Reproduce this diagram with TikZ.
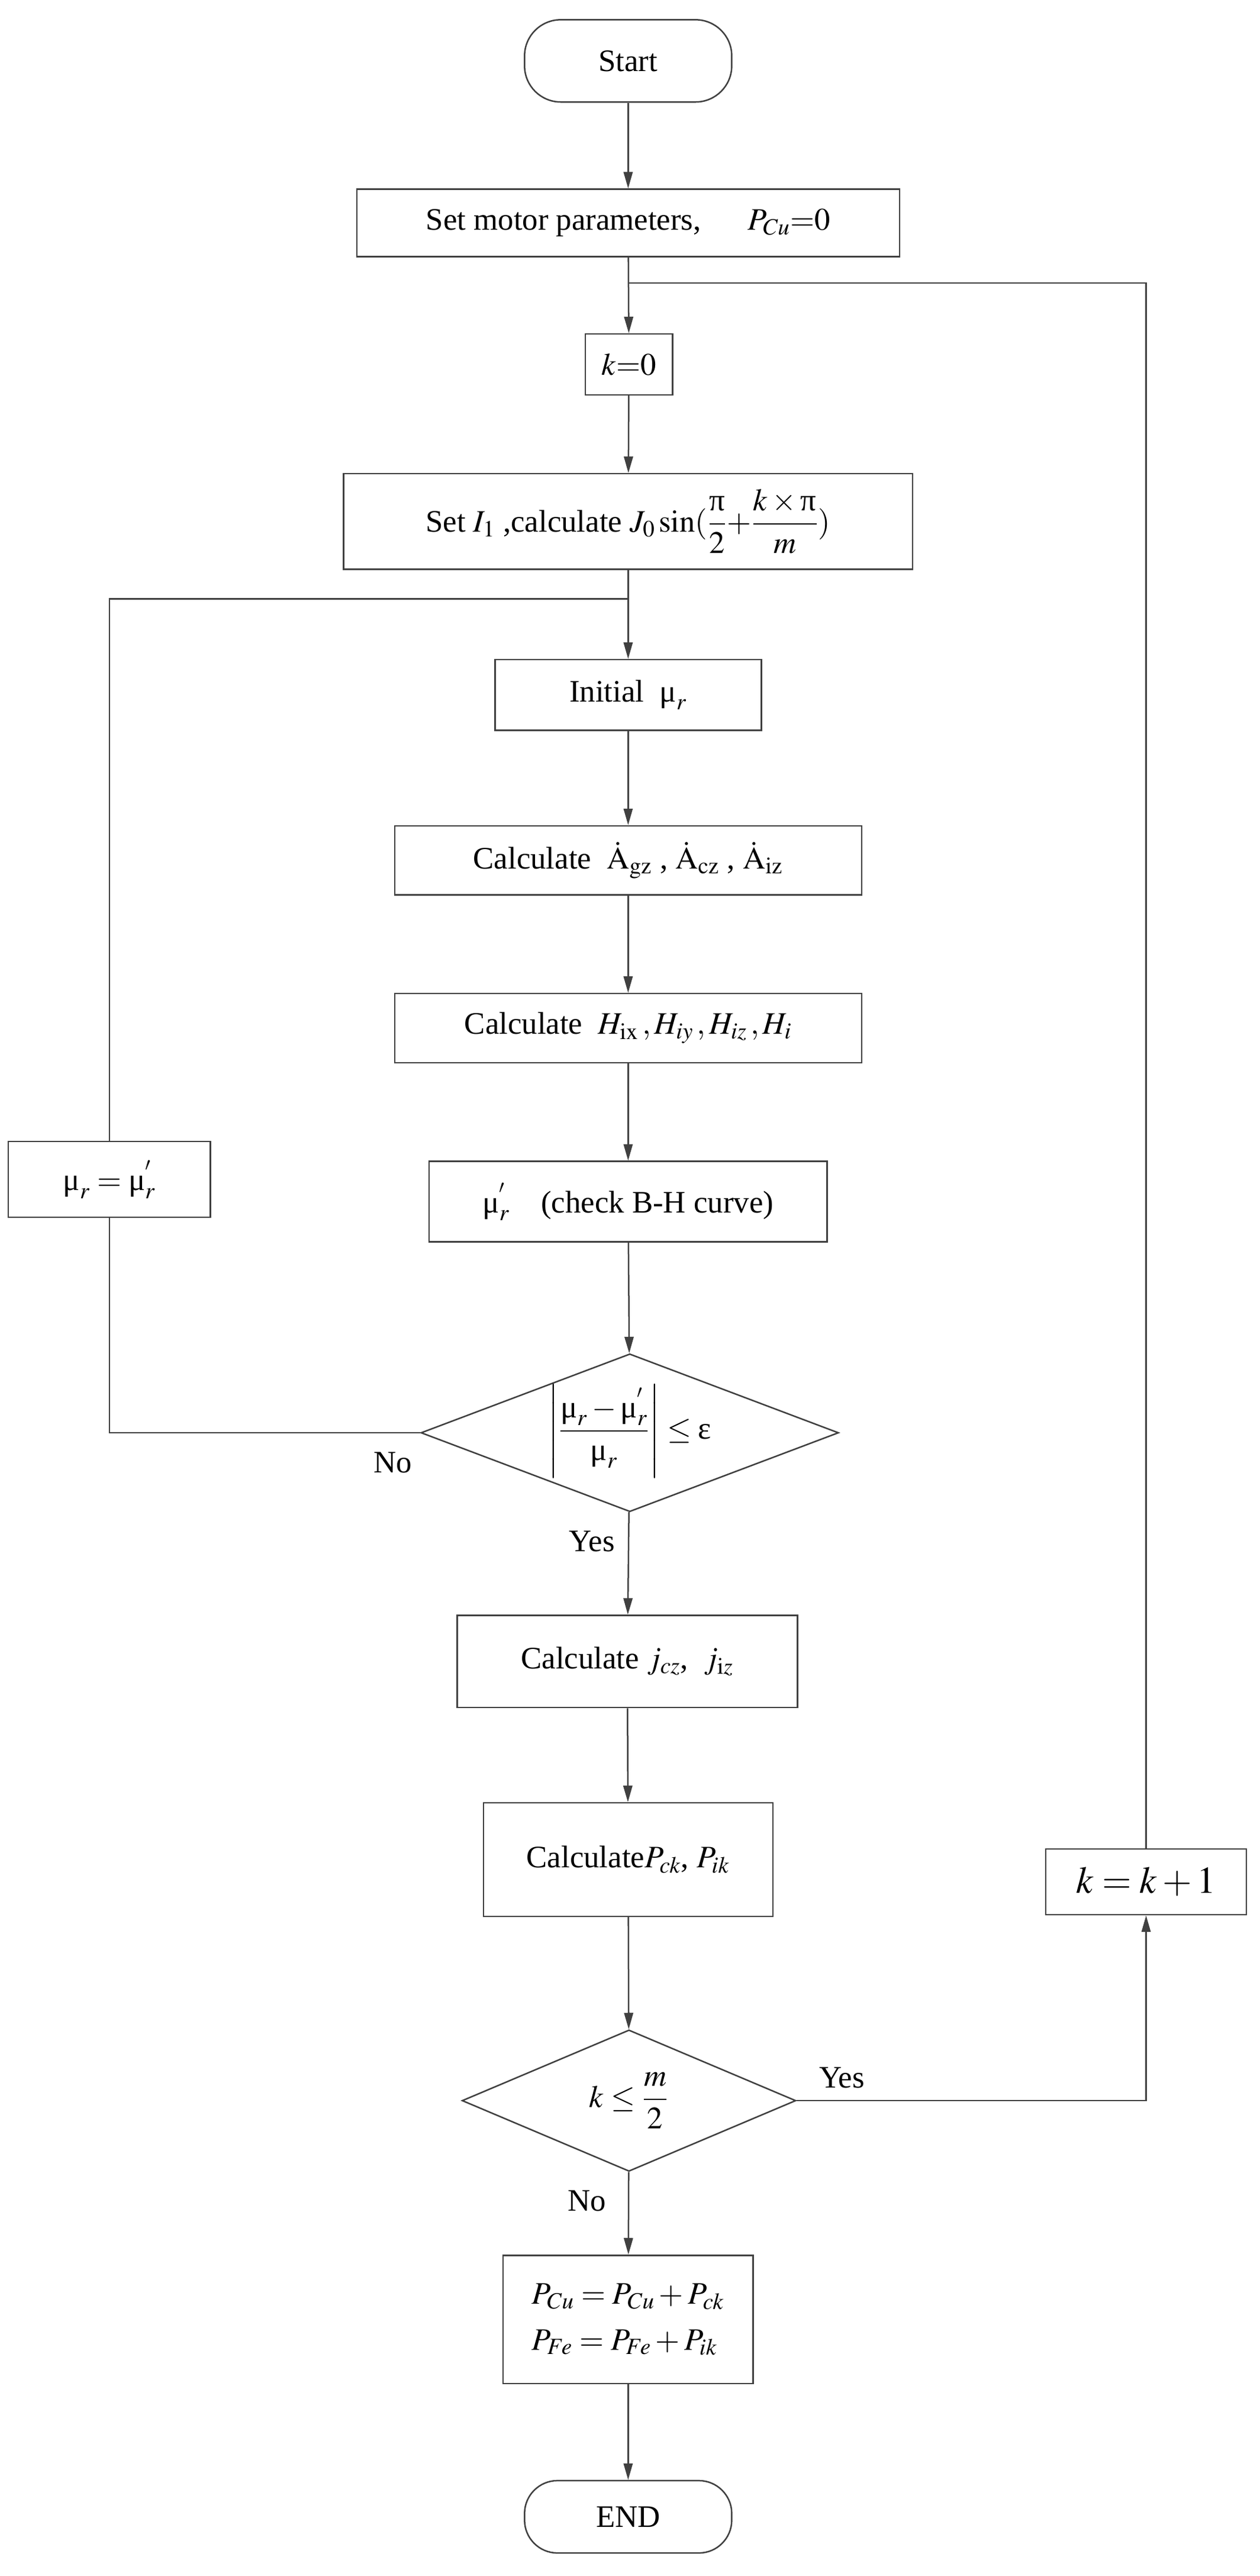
\documentclass[tikz,border=0pt]{standalone}
\usepackage{amsmath}
\usepackage{mathptmx}
\usepackage{fontspec}
\setmainfont{Liberation Serif}
\usetikzlibrary{arrows.meta,shapes.geometric,positioning}
\definecolor{ln}{HTML}{404040}
\newcommand{\um}{\textnormal{μ}}
\newcommand{\upi}{\textnormal{π}}
\begin{document}
\begin{tikzpicture}[x=1pt,y=-1pt,
  every node/.style={font=\fontsize{19}{23}\selectfont, inner sep=0pt},
  box/.style={draw=ln, line width=0.9pt, rectangle},
  term/.style={draw=ln, line width=0.9pt, rounded corners=22pt},
  dia/.style={draw=ln, line width=0.9pt, diamond, aspect=2.6},
  lab/.style={font=\fontsize{19}{23}\selectfont},
  arr/.style={draw=ln, line width=0.9pt, -{Triangle[length=10pt,width=5.5pt]}},
  ln/.style={draw=ln, line width=0.9pt}]
\useasboundingbox (0,0) rectangle (766,1566);
\node[term, minimum width=126pt, minimum height=50pt] (start) at (382,37) {Start};
\node[box, minimum width=330pt, minimum height=41pt] (b1) at (382,135.5) {Set motor parameters,\quad\ \ $P_{Cu}{=}0$};
\node[box, minimum width=53pt, minimum height=37pt] (k0) at (382.5,221.5) {$k{=}0$};
\node[box, minimum width=346pt, minimum height=58pt] (b2) at (382,317) {Set $I_1$ ,calculate $J_0\sin(\dfrac{\upi}{2}{+}\dfrac{k\times\upi}{m})$};
\node[box, minimum width=162pt, minimum height=43pt] (b3) at (382,422.5) {Initial\ \ $\um_r$};
\node[box, minimum width=284pt, minimum height=42pt] (b4) at (382,523) {Calculate\ \ $\dot{\mathrm{A}}_{\mathrm{gz}}$ ,\ $\dot{\mathrm{A}}_{\mathrm{cz}}$ ,\ $\dot{\mathrm{A}}_{\mathrm{iz}}$};
\node[box, minimum width=284pt, minimum height=42pt] (b5) at (382,625) {Calculate\ \ $H_{\mathrm{ix}}\,, H_{iy}\,, H_{iz}\,, H_{i}$};
\node[box, minimum width=242pt, minimum height=49pt] (b6) at (382,730.5) {$\um_r^{'}$\quad (check B-H curve)};
\node[box, minimum width=123pt, minimum height=46pt] (bm) at (66.5,717) {$\um_r=\um_r^{'}$};
\node[dia, minimum width=254pt, minimum height=96pt] (d1) at (383,871) {};
\node at (383,870) {$\left|\dfrac{\um_r-\um_r^{'}}{\um_r}\right|\le\textnormal{ε}$};
\node[lab] at (239,889) {No};
\node[lab] at (360,937) {Yes};
\node[box, minimum width=207pt, minimum height=56pt] (b7) at (381.5,1010) {Calculate $j_{cz}$, \ $j_{\mathrm{i}z}$};
\node[box, minimum width=176pt, minimum height=69pt] (b8) at (382,1130.5) {Calculate$P_{ck}$, $P_{ik}$};
\node[dia, minimum width=203pt, minimum height=86pt] (d2) at (382.5,1277) {};
\node at (382.5,1277) {$k\le\dfrac{m}{2}$};
\node[lab] at (512,1263) {Yes};
\node[lab] at (357,1338) {No};
\node[box, minimum width=122pt, minimum height=40pt] (bk) at (697,1144) {\fontsize{23}{27}\selectfont $k=k+1$};
\node[box, minimum width=152pt, minimum height=78pt, align=left] (b9) at (382,1410) {$P_{Cu}=P_{Cu}+P_{ck}$\\[5pt]$P_{Fe}=P_{Fe}+P_{ik}$};
\node[term, minimum width=126pt, minimum height=44pt, rounded corners=20pt] (end) at (382,1530) {END};
\coordinate (j1) at (382,172);
\coordinate (j2) at (382,364);
\path[arr] (start) -- (b1);
\path[arr] (b1) -- (k0);
\path[arr] (k0) -- (b2);
\path[arr] (b2) -- (b3);
\path[arr] (b3) -- (b4);
\path[arr] (b4) -- (b5);
\path[arr] (b5) -- (b6);
\path[arr] (b6) -- (d1);
\path[arr] (d1) -- (b7);
\path[arr] (b7) -- (b8);
\path[arr] (b8) -- (d2);
\path[arr] (d2) -- (b9);
\path[arr] (b9) -- (end);
\path[ln] (d1.west) -| (bm.south);
\path[ln] (bm.north) |- (j2);
\path[arr] (d2.east) -| (bk.south);
\path[ln] (bk.north) |- (j1);
\end{tikzpicture}
\end{document}
